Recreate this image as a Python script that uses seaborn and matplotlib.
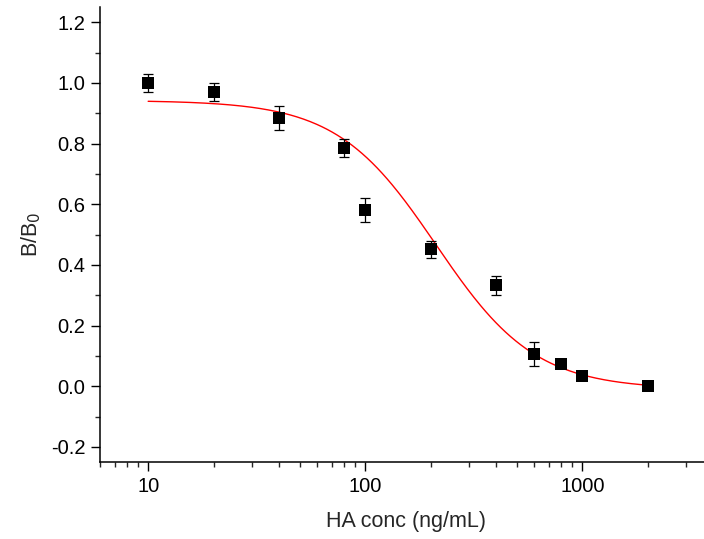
import numpy as np
import pandas as pd
import matplotlib
matplotlib.use("Agg")
import matplotlib.pyplot as plt
from matplotlib.ticker import LogLocator, NullFormatter, MultipleLocator, FixedLocator
import seaborn as sns

# measured points
conc = [10, 20, 40, 80, 100, 200, 400, 600, 800, 1000, 2000]
ratio = [1.0, 0.971, 0.883, 0.784, 0.58, 0.451, 0.332, 0.107, 0.072, 0.035, 0.0]
err = [0.03, 0.03, 0.04, 0.03, 0.04, 0.028, 0.03, 0.04, 0.01, 0.008, 0.005]

# logistic fit parameters (A1, A2, x0, p)
A1, A2, x0, p = 0.942, -0.01, 212.0, 1.9

sns.set_style("ticks")
plt.rcParams["font.family"] = ["Liberation Sans", "DejaVu Sans"]

fig = plt.figure(figsize=(7.04, 5.39), dpi=100)
ax = fig.add_axes([100 / 704, 77 / 539, 613 / 704, 455 / 539])

xs = np.logspace(np.log10(conc[0]), np.log10(conc[-1]), 300)
fit = pd.DataFrame({"x": xs, "y": A2 + (A1 - A2) / (1 + (xs / x0) ** p)})
sns.lineplot(data=fit, x="x", y="y", color="red", linewidth=1.0, ax=ax)

df = pd.DataFrame({"conc": conc, "ratio": ratio, "err": err})
ax.errorbar(df["conc"], df["ratio"], yerr=df["err"], fmt="none",
            ecolor="black", elinewidth=0.9, capsize=3.6, capthick=0.9, zorder=3)
sns.scatterplot(data=df, x="conc", y="ratio", marker="s", s=70, color="black",
                edgecolor="black", linewidth=0, ax=ax, zorder=4)

ax.set_xscale("log")
ax.set_xlim(6, 4000)
ax.set_ylim(-0.25, 1.25)
ax.xaxis.set_major_locator(FixedLocator([10, 100, 1000]))
ax.xaxis.set_major_formatter(matplotlib.ticker.FixedFormatter(["10", "100", "1000"]))
ax.xaxis.set_minor_locator(LogLocator(base=10, subs=np.arange(2, 10), numticks=20))
ax.xaxis.set_minor_formatter(NullFormatter())
ax.yaxis.set_major_locator(MultipleLocator(0.2))
ax.yaxis.set_minor_locator(MultipleLocator(0.1))
ax.yaxis.set_major_formatter(matplotlib.ticker.FuncFormatter(lambda v, _: f"{v:.1f}"))

ax.tick_params(which="major", direction="out", length=6.5, width=1.0, labelsize=14.5,
               colors="black", pad=4)
ax.tick_params(which="minor", direction="out", length=3.8, width=1.0)
for s in ["left", "bottom"]:
    ax.spines[s].set_linewidth(1.1)
    ax.spines[s].set_color("black")
sns.despine(ax=ax)

ax.set_xlabel("HA conc (ng/mL)", fontsize=15.5, labelpad=11)
ax.set_ylabel("B/B$_0$", fontsize=15.5, labelpad=6)

fig.savefig("out.png", dpi=100)
